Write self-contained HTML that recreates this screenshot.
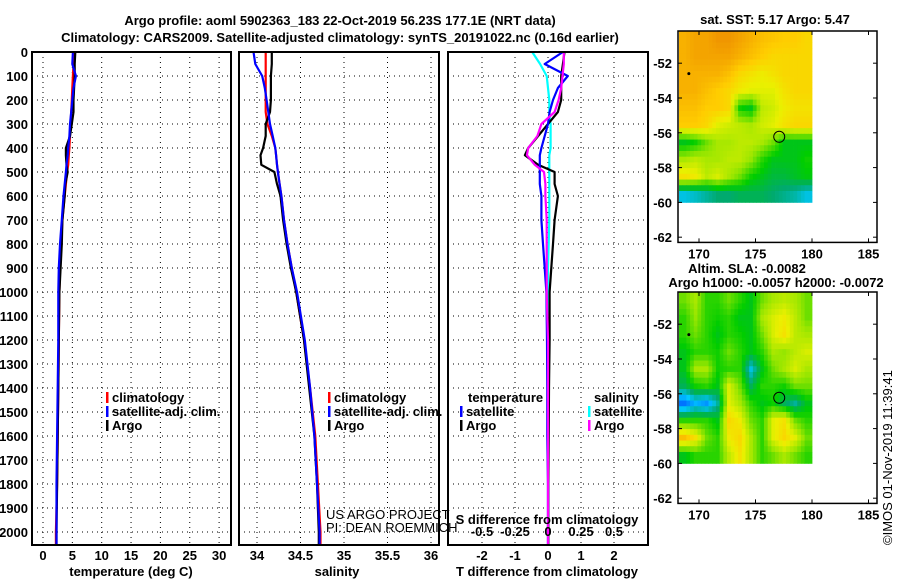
<!DOCTYPE html>
<html><head><meta charset="utf-8"><style>
body{margin:0;background:#fff;width:900px;height:580px;overflow:hidden}
svg text{font-family:"Liberation Sans",sans-serif;font-weight:bold;font-size:13px;fill:#000}
</style></head><body>
<svg id="c" width="900" height="580" xmlns="http://www.w3.org/2000/svg">
<text x="340" y="25" text-anchor="middle" font-size="14">Argo profile: aoml 5902363_183 22-Oct-2019 56.23S 177.1E (NRT data)</text>
<text x="340" y="42" text-anchor="middle" font-size="14">Climatology: CARS2009. Satellite-adjusted climatology: synTS_20191022.nc (0.16d earlier)</text>
<text x="775" y="24" text-anchor="middle" font-size="12">sat. SST: 5.17 Argo: 5.47</text>
<text x="747" y="273" text-anchor="middle" font-size="12">Altim. SLA: -0.0082</text>
<text x="776" y="287" text-anchor="middle" font-size="12">Argo h1000: -0.0057 h2000: -0.0072</text>
<text transform="translate(892,545) rotate(-90)" font-size="12" style="font-weight:normal">©IMOS 01-Nov-2019 11:39:41</text>
<text x="326" y="519" font-size="12" style="font-weight:normal">US ARGO PROJECT</text>
<text x="326" y="532" font-size="12" style="font-weight:normal">PI: DEAN ROEMMICH</text>
</svg>
<script>
// depth grid (m)
const depths=[0,50,100,150,200,250,300,350,400,430,470,500,550,600,700,800,900,1000,1200,1400,1600,1800,2000,2050];
// temperature (deg C)
const tempClim=[5.3,5.2,5.1,5.0,4.9,4.8,4.7,4.6,4.5,4.4,4.3,4.1,3.9,3.7,3.3,3.1,2.9,2.8,2.7,2.6,2.5,2.4,2.2,2.2];
const tempSat=[5.1,5.0,5.6,5.2,5.0,4.8,4.6,4.5,4.3,4.2,4.0,3.9,3.7,3.5,3.2,2.9,2.7,2.6,2.6,2.5,2.4,2.3,2.3,2.3];
const tempArgo=[5.5,5.4,5.4,5.3,5.2,5.2,4.9,4.6,3.9,3.9,4.0,4.2,3.8,3.7,3.3,3.2,3.0,2.8,2.7,2.6,2.5,2.4,2.3,2.3];
// salinity (PSU)
const salClim=[34.10,34.10,34.10,34.10,34.10,34.10,34.12,34.17,34.21,34.22,34.23,34.24,34.26,34.28,34.31,34.35,34.40,34.45,34.54,34.61,34.67,34.70,34.73,34.73];
const salSat=[33.96,33.98,34.06,34.09,34.11,34.13,34.15,34.18,34.21,34.22,34.23,34.24,34.26,34.28,34.31,34.35,34.40,34.46,34.55,34.61,34.66,34.69,34.72,34.72];
const salArgo=[34.17,34.17,34.16,34.16,34.16,34.15,34.10,34.10,34.07,34.04,34.05,34.20,34.23,34.27,34.30,34.34,34.39,34.45,34.54,34.60,34.66,34.69,34.71,34.71];
// differences from climatology
const dTsat=[0.45,-0.1,0.6,0.3,0.15,0.05,0.0,-0.1,-0.2,-0.25,-0.25,-0.25,-0.25,-0.2,-0.2,-0.15,-0.1,-0.05,-0.03,-0.02,-0.02,0,0,0];
const dTargo=[0.5,0.45,0.4,0.4,0.4,0.3,0.0,-0.3,-0.6,-0.7,-0.3,0.2,0.2,0.3,0.2,0.15,0.1,0.05,0.05,0.03,0.02,0.01,0.01,0.01];
const dSsat=[-0.12,-0.06,-0.01,0,0.01,0.01,0.02,0.02,0.02,0.01,0.01,0.01,0.01,0.01,0.01,0.005,0,0,0,0,0,0,0,0];
const dSargo=[0.12,0.12,0.11,0.10,0.08,0.05,-0.05,-0.08,-0.15,-0.16,-0.1,-0.03,-0.02,-0.02,-0.01,-0.01,-0.01,-0.01,0,0,0,0,0,0];
// axis ticks
const depthTicks=[0,100,200,300,400,500,600,700,800,900,1000,1100,1200,1300,1400,1500,1600,1700,1800,1900,2000];
const tempTicks=[0,5,10,15,20,25,30];
const salTicks=[34,34.5,35,35.5,36];
const salTickLabels=["34","34.5","35","35.5","36"];
const dTTicks=[-2,-1,0,1,2];
const dSTicks=[-0.5,-0.25,0,0.25,0.5];
const latTicks=[-52,-54,-56,-58,-60,-62];
const lonTicks=[170,175,180,185];
// map fields (rows north->south, cols 168E..180E)
const sstGrid=[
[.78,.8,.8,.82,.82,.8,.78,.76,.75,.74,.74,.72],
[.78,.8,.8,.8,.8,.78,.76,.74,.72,.72,.72,.72],
[.78,.78,.78,.78,.76,.72,.7,.68,.7,.72,.72,.72],
[.78,.78,.76,.74,.72,.68,.66,.66,.66,.7,.72,.72],
[.76,.76,.74,.74,.72,.48,.45,.62,.64,.68,.7,.7],
[.74,.74,.72,.66,.64,.62,.6,.64,.66,.7,.72,.72],
[.45,.48,.55,.6,.6,.62,.62,.6,.55,.45,.45,.45],
[.6,.62,.6,.6,.62,.62,.58,.5,.45,.45,.45,.48],
[.7,.68,.62,.65,.6,.55,.48,.45,.42,.42,.44,.46],
[.3,.32,.35,.38,.38,.4,.4,.4,.38,.36,.34,.3]];
const slaGrid=[
[.55,.6,.5,.5,.55,.5,.45,.55,.6,.62,.6,.55],
[.5,.58,.5,.48,.5,.45,.45,.6,.65,.68,.62,.55],
[.5,.55,.5,.45,.5,.48,.45,.55,.65,.7,.62,.6],
[.45,.5,.5,.48,.55,.5,.45,.5,.6,.58,.62,.65],
[.45,.6,.6,.48,.5,.5,.3,.45,.55,.6,.65,.6],
[.4,.48,.5,.45,.65,.55,.4,.5,.5,.48,.55,.55],
[.18,.26,.22,.35,.66,.6,.5,.45,.48,.4,.35,.45],
[.5,.5,.5,.45,.72,.68,.55,.5,.66,.7,.55,.5],
[.76,.7,.55,.5,.68,.72,.6,.5,.66,.72,.66,.55],
[.45,.5,.5,.5,.62,.7,.6,.5,.55,.6,.55,.5]];
const floatLat=-56.23, floatLon=177.1;
const prevLat=-52.6, prevLon=169.1;

const svg=document.getElementById('c');
const NS='http://www.w3.org/2000/svg';
function mk(tag,attrs,parent){const e=document.createElementNS(NS,tag);for(const k in attrs)e.setAttribute(k,attrs[k]);(parent||svg).appendChild(e);return e;}
function txt(x,y,s,anchor,size){const t=mk('text',{x:x,y:y,'text-anchor':anchor||'middle','font-size':size||13});t.textContent=s;return t;}
const yD=d=>52+d*0.24;
const PT=[32,231], PS=[239,439], PD=[448,648], TOP=52, BOT=545;
const xT=v=>43+v*5.87, xS=v=>257+(v-34)*87, xdT=v=>548+v*33, xdS=v=>548+v*132;

function frame(p,name){const r=mk('rect',{x:p[0],y:TOP,width:p[1]-p[0],height:BOT-TOP,fill:'none',stroke:'#000','stroke-width':2});

}
function hgrid(p){depthTicks.forEach(d=>{const l=mk('line',{x1:p[0],x2:p[1],y1:yD(d),y2:yD(d),stroke:'#000','stroke-dasharray':'1 4'});

});}
function vgrid(p,xs){xs.forEach(x=>{const l=mk('line',{x1:x,x2:x,y1:TOP,y2:BOT,stroke:'#000','stroke-dasharray':'1 4'});

});}
function line(xf,vals,color,name){const pts=vals.map((v,i)=>xf(v).toFixed(1)+','+yD(depths[i]).toFixed(1)).join(' ');
const pl=mk('polyline',{points:pts,fill:'none',stroke:color,'stroke-width':2.2,'stroke-linejoin':'round'});

}

// panel 1
hgrid(PT);vgrid(PT,tempTicks.map(xT));
line(xT,tempClim,'#f00','temp-climatology-line');line(xT,tempArgo,'#000','temp-argo-line');line(xT,tempSat,'#00f','temp-satellite-line');
frame(PT,'temperature-panel');
depthTicks.forEach(d=>{const t=txt(28,yD(d)+5,String(d),'end');

});
tempTicks.forEach(v=>{const t=txt(xT(v),560,String(v));

});
let at=txt(131,576,'temperature (deg C)');


// panel 2
hgrid(PS);vgrid(PS,salTicks.map(xS));
line(xS,salClim,'#f00','sal-climatology-line');line(xS,salArgo,'#000','sal-argo-line');line(xS,salSat,'#00f','sal-satellite-line');
frame(PS,'salinity-panel');
salTicks.forEach((v,i)=>{const t=txt(xS(v),560,salTickLabels[i]);

});
at=txt(337,576,'salinity');


// panel 3
hgrid(PD);vgrid(PD,dTTicks.map(xdT));
line(xdS,dSsat,'#0ff','sdiff-satellite-line');line(xdT,dTargo,'#000','tdiff-argo-line');line(xdT,dTsat,'#00f','tdiff-satellite-line');line(xdS,dSargo,'#f0f','sdiff-argo-line');
frame(PD,'difference-panel');
dTTicks.forEach(v=>{const t=txt(xdT(v),560,String(v));

});
dSTicks.forEach(v=>{const t=txt(xdS(v),536,String(v));

});
at=txt(547,524,'S difference from climatology');


at=txt(547,576,'T difference from climatology');



// legends
function leg(x,y,color,label,name){const r=mk('rect',{x:x,y:y-10,width:2.5,height:11,fill:color});


const t=txt(x+6,y,label,'start');

}
[[106,402,'#f00','climatology'],[106,416,'#00f','satellite-adj. clim.'],[106,430,'#000','Argo']].forEach(a=>leg(a[0],a[1],a[2],a[3],'legend-entry'));
[[328,402,'#f00','climatology'],[328,416,'#00f','satellite-adj. clim.'],[328,430,'#000','Argo']].forEach(a=>leg(a[0],a[1],a[2],a[3],'legend-entry'));
let lt=txt(468,402,'temperature','start');


lt=txt(594,402,'salinity','start');


leg(460,416,'#00f','satellite','legend-entry');leg(460,430,'#000','Argo','legend-entry');
leg(588,416,'#0ff','satellite','legend-entry');leg(588,430,'#f0f','Argo','legend-entry');

// maps
const cstops=[[0,[0,0,170]],[.15,[0,90,255]],[.28,[0,200,255]],[.38,[0,170,110]],[.47,[0,205,0]],[.58,[150,230,0]],[.67,[235,240,0]],[.74,[255,205,0]],[.82,[240,150,0]]];
function cmap(v){for(let i=1;i<cstops.length;i++){if(v<=cstops[i][0]){const a=cstops[i-1],b=cstops[i],f=(v-a[0])/(b[0]-a[0]);return 'rgb('+a[1].map((c,k)=>Math.round(c+(b[1][k]-c)*f)).join(',')+')';}}return 'rgb(240,150,0)';}
function sample(grid,fr,fc){const R=grid.length-1,C=grid[0].length-1;
 const r=Math.max(0,Math.min(R,fr)),c=Math.max(0,Math.min(C,fc));
 const r0=Math.floor(r),c0=Math.floor(c),r1=Math.min(R,r0+1),c1=Math.min(C,c0+1),a=r-r0,b=c-c0;
 return grid[r0][c0]*(1-a)*(1-b)+grid[r0][c1]*(1-a)*b+grid[r1][c0]*a*(1-b)+grid[r1][c1]*a*b;}
function drawMap(top,grid,name){
 const xL=v=>755.5+(v-175)*11.3, yL=v=>top+(-50.15-v)*17.4;
 const rows=grid.length, cols=grid[0].length, up=3;
 const x0=679, x1=xL(180), y0=top, y1=yL(-60);
 const ch=(y1-y0)/(rows*up), cw=(x1-x0)/(cols*up);
 for(let r=0;r<rows*up;r++)for(let c=0;c<cols*up;c++){
  const v=sample(grid,(r+0.5)/up-0.5,(c+0.5)/up-0.5);
  const cell=mk('rect',{x:(x0+c*cw).toFixed(2),y:(y0+r*ch).toFixed(2),width:(cw+0.4).toFixed(2),height:(ch+0.4).toFixed(2),fill:cmap(v)});
  
  }
 const fr=mk('rect',{x:678,y:top,width:199,height:yL(-62.3)-top,fill:'none',stroke:'#000','stroke-width':1.5});
 
 
 latTicks.forEach(v=>{mk('line',{x1:678,x2:682,y1:yL(v),y2:yL(v),stroke:'#000'});mk('line',{x1:873,x2:877,y1:yL(v),y2:yL(v),stroke:'#000'});
 const t=txt(672,yL(v)+5,String(v),'end',12);
 
 });
 const by=yL(-62.3);
 lonTicks.forEach(v=>{mk('line',{x1:xL(v),x2:xL(v),y1:by,y2:by-4,stroke:'#000'});mk('line',{x1:xL(v),x2:xL(v),y1:top,y2:top+4,stroke:'#000'});
 const t=txt(xL(v),by+16,String(v),'middle',12);
 
 });
 const c=mk('circle',{cx:xL(floatLon),cy:yL(floatLat),r:5.5,fill:'none',stroke:'#000','stroke-width':1});
 
 
 const d=mk('circle',{cx:xL(prevLon),cy:yL(prevLat),r:1.5,fill:'#000'});
 
 
}
drawMap(31,sstGrid,'sst-map');
drawMap(292,slaGrid,'sla-map');
</script>
</body></html>
